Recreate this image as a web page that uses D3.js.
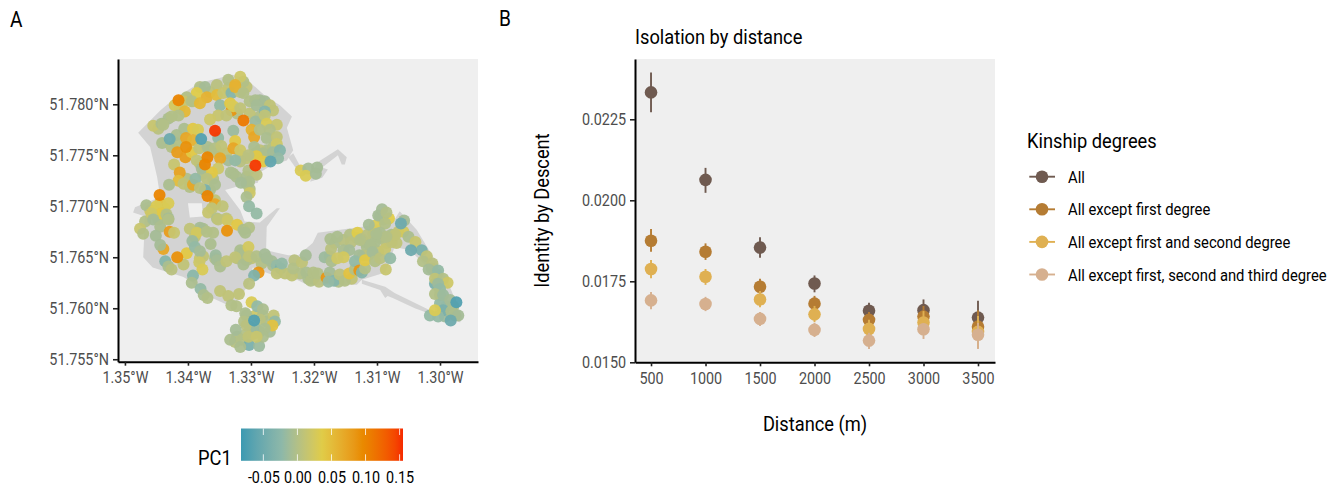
<!DOCTYPE html>
<html>
<head>
<meta charset="utf-8">
<script src="https://cdn.jsdelivr.net/npm/d3@7"></script>
<style>
  html, body { margin: 0; background: #fff; }
  svg { display: block; }
  text { font-family: Roboto, sans-serif; }
</style>
</head>
<body>
<svg id="chart" width="1340" height="487"></svg>
<script>
const locations = [
[-1.3381,51.7817,0],[-1.3365,51.7812,.01],[-1.3307,51.7817,.01],[-1.3312,51.7822,0],[-1.3336,51.7816,.01],[-1.3302,51.7803,0],[-1.3286,51.7804,-.01],[-1.3265,51.7794,.01],
[-1.3286,51.7788,0],[-1.3302,51.7791,.01],[-1.3322,51.7791,0],[-1.3392,51.7803,.01],[-1.3413,51.7796,.005],[-1.3431,51.7786,-.005],[-1.3447,51.7776,.005],[-1.3418,51.7762,0],
[-1.3365,51.7755,-.005],[-1.3354,51.7753,.005],[-1.3339,51.7752,.01],[-1.3317,51.7750,-.005],[-1.3307,51.7747,.01],[-1.3293,51.7752,0],[-1.3275,51.7755,-.005],[-1.3265,51.7758,0],
[-1.3286,51.7755,.01],[-1.3270,51.7748,-.01],[-1.3381,51.7742,.005],[-1.3376,51.7732,0],[-1.3360,51.7727,0],[-1.3328,51.7732,-.005],[-1.3307,51.7722,0],[-1.3302,51.7717,0],
[-1.3307,51.7729,-.005],[-1.3402,51.7727,0],[-1.3397,51.7719,0],[-1.3365,51.7716,-.005],[-1.3357,51.7706,.01],[-1.3460,51.7696,.02],[-1.3444,51.7703,.045],[-1.3437,51.7698,.03],
[-1.3450,51.7691,0],[-1.3468,51.7685,0],[-1.3447,51.7687,-.005],[-1.3439,51.7692,0],[-1.3389,51.7670,.01],[-1.3376,51.7678,-.005],[-1.3381,51.7649,.015],[-1.3376,51.7651,.01],
[-1.3357,51.7649,0],[-1.3322,51.7649,.005],[-1.3315,51.7654,-.005],[-1.3299,51.7649,.01],[-1.3307,51.7647,0],[-1.3265,51.7642,-.005],[-1.3293,51.7593,.02],[-1.3307,51.7593,-.005],
[-1.3281,51.7593,0],[-1.3302,51.7582,0],[-1.3275,51.7587,-.005],[-1.3270,51.7577,-.01],[-1.3322,51.7572,-.01],[-1.3325,51.7567,.005],[-1.3309,51.7574,0],[-1.3296,51.7575,.01],
[-1.3286,51.7577,0],[-1.3167,51.7664,-.005],[-1.3153,51.7667,.005],[-1.3132,51.7669,.01],[-1.3119,51.7665,0],[-1.3106,51.7673,0],[-1.3109,51.7662,-.01],[-1.3095,51.7669,0],
[-1.3085,51.7664,0],[-1.3077,51.7672,-.005],[-1.3069,51.7664,.01],[-1.3090,51.7687,0],[-1.3095,51.7690,-.005],[-1.3116,51.7660,-.005],[-1.3122,51.7652,0],[-1.3114,51.7652,.005],
[-1.3098,51.7656,.01],[-1.3175,51.7651,0],[-1.3153,51.7657,-.005],[-1.3201,51.7629,0],[-1.3222,51.7634,0],[-1.3209,51.7629,-.005],[-1.3161,51.7626,0],[-1.3140,51.7629,.01],
[-1.3000,51.7613,-.01],[-1.2990,51.7602,-.02],[-1.3000,51.7605,-.02],[-1.2979,51.7602,0],[-1.2976,51.7593,0],[-1.2992,51.7592,-.015],[-1.3005,51.7633,-.015],[-1.3013,51.7639,-.005],
[-1.3331,51.7794,.085],[-1.3415,51.7804,.10],[-1.3317,51.7827,.02],[-1.3336,51.7824,0],[-1.3325,51.7819,.06],[-1.3373,51.7817,-.01],[-1.3354,51.7819,.005],
[-1.3386,51.7811,.035],[-1.3370,51.7807,.06],[-1.3354,51.7809,.05],[-1.3344,51.7811,.015],[-1.3331,51.7811,-.03],[-1.3317,51.7812,.01],[-1.3325,51.7817,.06],[-1.3312,51.7811,0],
[-1.3402,51.7807,0],[-1.3421,51.7799,.025],[-1.3407,51.7803,.015],[-1.3394,51.7803,0],[-1.3381,51.7801,.055],[-1.3405,51.7793,.055],[-1.3415,51.7789,0],[-1.3426,51.7788,0],
[-1.3349,51.7799,-.02],[-1.3333,51.7801,.04],[-1.3328,51.7798,.03],[-1.3317,51.7796,.01],[-1.3293,51.7804,-.005],[-1.3278,51.7803,-.01],[-1.3270,51.7799,.01],[-1.3291,51.7799,-.01],
[-1.3352,51.7789,.015],[-1.3339,51.7789,.01],[-1.3365,51.7785,.02],[-1.3312,51.7784,.11],[-1.3293,51.7783,-.015],[-1.3278,51.7793,-.03],[-1.3278,51.7789,.01],[-1.3275,51.7781,.03],
[-1.3259,51.7780,.015],[-1.3299,51.7775,.06],[-1.3295,51.7768,.07],[-1.3286,51.7775,0],[-1.3270,51.7775,0],[-1.3275,51.7767,-.005],[-1.3259,51.7768,.01],[-1.3259,51.7761,.02],
[-1.3455,51.7779,.015],[-1.3442,51.7781,-.005],[-1.3439,51.7780,0],[-1.3357,51.7774,.15],[-1.3328,51.7774,-.015],[-1.3379,51.7766,-.07],[-1.3352,51.7767,-.02],[-1.3429,51.7766,-.05],
[-1.3441,51.7762,-.005],[-1.3426,51.7758,0],[-1.3418,51.7770,-.005],[-1.3406,51.7776,-.005],[-1.3392,51.7776,.04],[-1.3384,51.7775,.03],[-1.3403,51.7767,.07],[-1.3392,51.7765,.06],
[-1.3417,51.7753,.08],[-1.3404,51.7748,.08],[-1.3403,51.7758,.09],[-1.3394,51.7753,.04],[-1.3382,51.7757,.01],[-1.3369,51.7758,-.005],[-1.3357,51.7757,0],[-1.3347,51.7759,.01],
[-1.3325,51.7764,.04],[-1.3328,51.7757,.07],[-1.3317,51.7755,.02],[-1.3295,51.7758,-.005],[-1.3281,51.7752,-.005],[-1.3265,51.7753,-.01],[-1.3269,51.7744,-.06],[-1.3254,51.7755,-.03],
[-1.3257,51.7747,-.02],[-1.3291,51.7749,.04],[-1.3281,51.7744,.04],[-1.3293,51.7740,.15],[-1.3304,51.7750,.005],[-1.3317,51.7744,.005],[-1.3336,51.7745,-.01],[-1.3325,51.7745,-.02],
[-1.3349,51.7747,.07],[-1.3386,51.7745,.01],[-1.3369,51.7748,.10],[-1.3373,51.7741,.10],[-1.3422,51.7741,.015],[-1.3413,51.7733,.075],[-1.3415,51.7725,.05],[-1.3430,51.7721,-.005],
[-1.3407,51.7722,.01],[-1.3392,51.7721,.07],[-1.3388,51.7727,-.02],[-1.3378,51.7737,-.01],[-1.3352,51.7737,.02],[-1.3362,51.7733,.04],[-1.3370,51.7727,.005],[-1.3332,51.7733,-.005],
[-1.3323,51.7729,-.005],[-1.3304,51.7735,0],[-1.3291,51.7731,.005],[-1.3303,51.7724,-.005],[-1.3316,51.7723,-.01],[-1.3357,51.7721,-.005],[-1.3373,51.7716,-.04],[-1.3381,51.7718,.005],
[-1.3369,51.7710,.10],[-1.3445,51.7711,.10],[-1.3302,51.7713,.02],[-1.3307,51.7709,-.005],[-1.3303,51.7700,-.02],[-1.3291,51.7693,-.02],[-1.3357,51.7702,.07],[-1.3345,51.7700,.01],
[-1.3362,51.7698,.01],[-1.3368,51.7694,.015],[-1.3339,51.7688,.01],[-1.3354,51.7688,0],[-1.3431,51.7703,.03],[-1.3466,51.7701,-.005],[-1.3450,51.7700,.03],[-1.3455,51.7695,.03],
[-1.3442,51.7693,.04],[-1.3434,51.7692,0],[-1.3431,51.7688,-.01],[-1.3458,51.7693,.02],[-1.3455,51.7687,-.01],[-1.3444,51.7680,-.005],[-1.3431,51.7687,0],[-1.3476,51.7678,.015],
[-1.3471,51.7673,0],[-1.3451,51.7671,-.01],[-1.3429,51.7675,.08],[-1.3422,51.7674,.015],[-1.3439,51.7658,.07],[-1.3444,51.7662,-.01],[-1.3417,51.7650,.09],[-1.3402,51.7654,.04],
[-1.3436,51.7646,-.03],[-1.3431,51.7641,-.005],[-1.3426,51.7638,.005],[-1.3407,51.7643,.01],[-1.3381,51.7679,-.01],[-1.3397,51.7678,.01],[-1.3386,51.7674,.025],[-1.3370,51.7675,0],
[-1.3360,51.7674,0],[-1.3393,51.7666,-.015],[-1.3389,51.7660,-.02],[-1.3381,51.7656,-.01],[-1.3364,51.7663,-.005],[-1.3356,51.7652,-.015],[-1.3354,51.7647,-.01],[-1.3349,51.7641,-.005],
[-1.3339,51.7646,.01],[-1.3382,51.7645,.02],[-1.3377,51.7638,.03],[-1.3392,51.7632,-.025],[-1.3394,51.7625,-.005],[-1.3380,51.7619,-.02],[-1.3375,51.7613,-.005],[-1.3369,51.7610,0],
[-1.3349,51.7617,.01],[-1.3336,51.7612,.01],[-1.3319,51.7614,.01],[-1.3352,51.7687,.01],[-1.3337,51.7686,.02],[-1.3338,51.7676,.09],[-1.3322,51.7682,.04],[-1.3312,51.7677,-.005],
[-1.3303,51.7679,0],[-1.3309,51.7674,-.005],[-1.3317,51.7657,-.005],[-1.3304,51.7660,.025],[-1.3325,51.7650,.01],[-1.3312,51.7643,-.005],[-1.3303,51.7651,.01],[-1.3291,51.7651,0],
[-1.3278,51.7653,-.01],[-1.3283,51.7644,0],[-1.3267,51.7646,-.01],[-1.3288,51.7635,.085],[-1.3295,51.7632,-.035],[-1.3303,51.7624,.005],[-1.3299,51.7606,.03],[-1.3290,51.7602,-.02],
[-1.3331,51.7603,0],[-1.3323,51.7602,0],[-1.3309,51.7595,-.005],[-1.3281,51.7599,-.005],[-1.3264,51.7593,.01],[-1.3286,51.7589,.005],[-1.3295,51.7588,-.07],[-1.3262,51.7587,-.02],
[-1.3266,51.7583,.045],[-1.3311,51.7587,0],[-1.3307,51.7583,.005],[-1.3324,51.7579,-.01],[-1.3291,51.7579,-.015],[-1.3278,51.7580,-.005],[-1.3333,51.7569,-.005],[-1.3315,51.7569,0],
[-1.3303,51.7564,-.04],[-1.3317,51.7562,-.005],[-1.3287,51.7563,-.015],[-1.3304,51.7572,.01],[-1.3281,51.7572,-.005],[-1.3291,51.7572,.015],[-1.3275,51.7649,-.01],[-1.3259,51.7642,-.02],
[-1.3253,51.7639,-.04],[-1.3259,51.7634,.01],[-1.3246,51.7634,.01],[-1.3235,51.7632,.01],[-1.3231,51.7647,.005],[-1.3233,51.7639,0],[-1.3251,51.7644,-.02],[-1.3219,51.7645,.01],
[-1.3213,51.7652,-.01],[-1.3212,51.7635,-.005],[-1.3205,51.7627,0],[-1.3201,51.7635,0],[-1.3192,51.7626,.005],[-1.3194,51.7634,0],[-1.3183,51.7650,-.015],[-1.3172,51.7646,-.005],
[-1.3180,51.7630,.085],[-1.3175,51.7635,-.01],[-1.3168,51.7627,-.03],[-1.3177,51.7626,-.02],[-1.3159,51.7633,.005],[-1.3151,51.7627,0],[-1.3173,51.7658,.005],[-1.3174,51.7668,-.005],
[-1.3163,51.7670,-.005],[-1.3143,51.7672,0],[-1.3141,51.7665,.005],[-1.3131,51.7674,.035],[-1.3124,51.7668,0],[-1.3115,51.7672,.005],[-1.3103,51.7681,.03],[-1.3113,51.7682,-.01],
[-1.3098,51.7691,-.01],[-1.3081,51.7688,.035],[-1.3092,51.7697,-.01],[-1.3085,51.7694,0],[-1.3087,51.7683,0],[-1.3095,51.7674,-.005],[-1.3103,51.7665,-.005],[-1.3111,51.7662,-.005],
[-1.3144,51.7657,-.01],[-1.3153,51.7650,.025],[-1.3163,51.7649,.02],[-1.3144,51.7634,.045],[-1.3135,51.7638,0],[-1.3128,51.7652,-.01],[-1.3135,51.7646,-.02],[-1.3128,51.7637,.085],
[-1.3124,51.7635,-.03],[-1.3119,51.7639,0],[-1.3119,51.7647,.04],[-1.3107,51.7655,-.01],[-1.3103,51.7646,0],[-1.3095,51.7649,.005],[-1.3087,51.7658,.015],[-1.3086,51.7638,.015],
[-1.3079,51.7649,-.02],[-1.3077,51.7665,.01],[-1.3066,51.7675,.01],[-1.3058,51.7675,.025],[-1.3057,51.7686,-.01],[-1.3062,51.7683,-.05],[-1.3050,51.7670,-.005],[-1.3039,51.7665,.015],
[-1.3029,51.7657,-.04],[-1.3046,51.7657,-.05],[-1.3021,51.7651,.01],[-1.3027,51.7646,0],[-1.3012,51.7644,.005],[-1.3018,51.7638,-.01],[-1.3003,51.7637,-.02],[-1.3008,51.7624,-.04],
[-1.3008,51.7629,.01],[-1.2995,51.7629,0],[-1.2988,51.7625,.02],[-1.3003,51.7624,-.015],[-1.3000,51.7619,-.02],[-1.3008,51.7614,0],[-1.2995,51.7613,-.015],[-1.2984,51.7608,-.01],
[-1.2995,51.7598,-.04],[-1.3016,51.7593,-.02],[-1.3003,51.7592,-.02],[-1.3008,51.7598,.03],[-1.2982,51.7597,-.005],[-1.2971,51.7593,-.01],[-1.2983,51.7588,-.05],[-1.2974,51.7606,-.07],
[-1.3071,51.7672,.01],[-1.3085,51.7670,0],[-1.3127,51.7667,0],[-1.3101,51.7673,-.005],
[-1.3221,51.7735,.03],[-1.3209,51.7737,-.01],[-1.3213,51.7730,.03],[-1.3195,51.7738,-.01],[-1.3197,51.7732,-.01]
];

// panel A: background map outlines [lon, lat]
const cityOutline = [
[-1.3479,51.7772],[-1.3444,51.7794],[-1.3421,51.7806],[-1.3381,51.7821],[-1.3329,51.7829],[-1.3306,51.7824],[-1.3275,51.7807],[-1.3254,51.7799],
[-1.3235,51.7788],[-1.3243,51.7777],[-1.3233,51.7755],[-1.3243,51.7745],[-1.3265,51.7741],[-1.3286,51.7733],[-1.3289,51.7723],[-1.3317,51.7720],
[-1.3341,51.7716],[-1.3317,51.7696],[-1.3310,51.7685],[-1.3286,51.7684],[-1.3259,51.7698],[-1.3254,51.7698],[-1.3275,51.7680],[-1.3276,51.7657],
[-1.3241,51.7652],[-1.3225,51.7652],[-1.3227,51.7628],[-1.3254,51.7630],[-1.3297,51.7640],[-1.3306,51.7621],[-1.3317,51.7611],[-1.3329,51.7601],
[-1.3365,51.7611],[-1.3392,51.7625],[-1.3408,51.7631],[-1.3456,51.7640],[-1.3471,51.7650],[-1.3468,51.7690],[-1.3487,51.7694],[-1.3484,51.7699],
[-1.3444,51.7709],[-1.3449,51.7729],[-1.3460,51.7758]
];
const cityHole = [[-1.3400,51.7703],[-1.3378,51.7703],[-1.3376,51.7690],[-1.3397,51.7689]];
const eastOutline = [
[-1.3225,51.7652],[-1.3202,51.7664],[-1.3194,51.7674],[-1.3135,51.7679],[-1.3075,51.7684],[-1.3064,51.7695],[-1.3037,51.7677],[-1.2989,51.7628],
[-1.2965,51.7592],[-1.2968,51.7586],[-1.3008,51.7597],[-1.3005,51.7608],[-1.3021,51.7641],[-1.3048,51.7657],[-1.3072,51.7660],[-1.3087,51.7635],
[-1.3124,51.7628],[-1.3132,51.7623],[-1.3211,51.7623],[-1.3227,51.7628]
];
const roadStrip = [
[-1.3124,51.7628],[-1.3087,51.7621],[-1.3072,51.7615],[-1.3016,51.7598],[-1.3013,51.7594],[-1.3040,51.7600],[-1.3075,51.7610],[-1.3083,51.7612],
[-1.3087,51.7610],[-1.3095,51.7618],[-1.3124,51.7624]
];
const armLink = [[-1.3241,51.7748],[-1.3233,51.7752],[-1.3219,51.7736],[-1.3225,51.7734]];
const armOutline = [
[-1.3206,51.7724],[-1.3203,51.7731],[-1.3195,51.7743],[-1.3162,51.7756],[-1.3148,51.7748],[-1.3151,51.7741],[-1.3156,51.7741],[-1.3162,51.7750],
[-1.3187,51.7738],[-1.3178,51.7736],[-1.3187,51.7728]
];

const lonTicks = [-1.35, -1.34, -1.33, -1.32, -1.31, -1.30];
const latTicks = [51.755, 51.76, 51.765, 51.77, 51.775, 51.78];

// colour bar
const pc1Range = [-0.0828, 0.155];
const pc1Ticks = [-0.05, 0, 0.05, 0.10, 0.15];
const pc1Colors = ["#3B9AB2", "#8DB8A9", "#E0CC48", "#E98A00", "#F62A00"];

// panel B
const distances = [500, 1000, 1500, 2000, 2500, 3000, 3500];
const ibdTicks = [0.015, 0.0175, 0.02, 0.0225];
const kinshipLabels = ["All", "All except first degree", "All except first and second degree", "All except first, second and third degree"];
const kinshipColors = ["#6F5A50", "#B57C33", "#DFB052", "#D6B08F"];
const ibdAll = [0.02333, 0.02063, 0.01854, 0.01743, 0.01659, 0.01661, 0.01638];
const ibdAllLow = [0.02272, 0.02023, 0.01823, 0.01716, 0.01636, 0.0163, 0.01594];
const ibdAllHigh = [0.02394, 0.0210, 0.01886, 0.01768, 0.01684, 0.01694, 0.0169];
const ibdNoFirst = [0.01875, 0.01841, 0.01733, 0.01681, 0.01631, 0.01641, 0.0161];
const ibdNoFirstLow = [0.01841, 0.01816, 0.01708, 0.01658, 0.01606, 0.01612, 0.01563];
const ibdNoFirstHigh = [0.01911, 0.01867, 0.01758, 0.01705, 0.01655, 0.01674, 0.01661];
const ibdNoSecond = [0.01788, 0.01764, 0.01694, 0.01648, 0.01603, 0.01623, 0.01594];
const ibdNoSecondLow = [0.01759, 0.01739, 0.0167, 0.01624, 0.01575, 0.01587, 0.01544];
const ibdNoSecondHigh = [0.01816, 0.01788, 0.0172, 0.01674, 0.01631, 0.01658, 0.01643];
const ibdNoThird = [0.01691, 0.0168, 0.01634, 0.016, 0.01567, 0.01602, 0.01585];
const ibdNoThirdLow = [0.01664, 0.01658, 0.01612, 0.01578, 0.01541, 0.01572, 0.01541];
const ibdNoThirdHigh = [0.01717, 0.01702, 0.01655, 0.01622, 0.01591, 0.01621, 0.01621];

const svg = d3.select("#chart");
const narrow = 0.87;   // the reference uses a condensed face

function label(x, y, str, size, anchor, rotate) {
	return svg.append("text")
		.attr("transform", "translate(" + x + "," + y + ")" + (rotate ? " rotate(-90)" : "") + " scale(" + narrow + ",1)")
		.attr("text-anchor", anchor || "start")
		.attr("font-size", size)
		.attr("fill", "#000")
		.text(str);
}

function styleAxis(g, size, dx) {
	g.selectAll(".tick line").attr("stroke", "#222").attr("stroke-width", 1.6);
	g.selectAll(".domain").attr("stroke", "#000").attr("stroke-width", 2);
	g.selectAll(".tick text")
		.attr("font-family", "Roboto, sans-serif")
		.attr("font-size", size)
		.attr("fill", "#4d4d4d")
		.attr("transform", "scale(" + narrow + ",1)");
	if (dx) g.selectAll(".tick text").attr("x", dx / narrow);
}

// ---- panel A
const lon = d3.scaleLinear().domain([-1.3511, -1.29397]).range([118, 478]);
const lat = d3.scaleLinear().domain([51.75476, 51.78444]).range([361.7, 59]);
const colorStops = pc1Colors.map((c, i) => pc1Range[0] + i * (pc1Range[1] - pc1Range[0]) / (pc1Colors.length - 1));
const pc1Color = d3.scaleLinear().domain(colorStops).range(pc1Colors).interpolate(d3.interpolateLab);

svg.append("rect").attr("x", 118).attr("y", 59).attr("width", 360).attr("height", 302.7).attr("fill", "#efefef");

const ring = d3.line().x(d => lon(d[0])).y(d => lat(d[1]));
svg.append("path")
	.attr("d", ring(cityOutline) + "Z" + ring(cityHole) + "Z")
	.attr("fill", "#d3d3d3")
	.attr("fill-rule", "evenodd");
[eastOutline, roadStrip, armLink, armOutline].forEach(o => {
	svg.append("path").attr("d", ring(o) + "Z").attr("fill", "#d3d3d3");
});

// strongest values sit on top of the crowd, as in the reference
const isExtreme = d => d[2] >= 0.09 || d[2] <= -0.05;
const drawOrder = locations.filter(d => !isExtreme(d)).concat(locations.filter(isExtreme));

svg.append("g").selectAll("circle")
	.data(drawOrder)
	.join("circle")
	.attr("cx", d => lon(d[0]))
	.attr("cy", d => lat(d[1]))
	.attr("r", 6)
	.attr("fill-opacity", 0.95)
	.attr("fill", d => pc1Color(d[2]));

const lonAxis = svg.append("g").attr("transform", "translate(0,361.7)")
	.call(d3.axisBottom(lon).tickValues(lonTicks).tickSize(4).tickSizeOuter(0).tickPadding(6)
		.tickFormat(d => Math.abs(d).toFixed(2) + "°W"));
styleAxis(lonAxis, 16.5);
const latAxis = svg.append("g").attr("transform", "translate(118,0)")
	.call(d3.axisLeft(lat).tickValues(latTicks).tickSize(5).tickSizeOuter(0)
		.tickFormat(d => d.toFixed(3) + "°N"));
styleAxis(latAxis, 16.5, -9);

// colour bar
const barX = d3.scaleLinear().domain(pc1Range).range([241, 403]);
const grad = svg.append("defs").append("linearGradient").attr("id", "pc1grad");
d3.range(0, 1.001, 0.05).forEach(t => {
	grad.append("stop").attr("offset", t).attr("stop-color", pc1Color(pc1Range[0] + t * (pc1Range[1] - pc1Range[0])));
});
svg.append("rect").attr("x", 241).attr("y", 428.5).attr("width", 162).attr("height", 32.3).attr("fill", "url(#pc1grad)");
pc1Ticks.forEach(t => {
	svg.append("line").attr("x1", barX(t)).attr("x2", barX(t)).attr("y1", 428.5).attr("y2", 435).attr("stroke", "#fff").attr("stroke-width", 0.8);
	svg.append("line").attr("x1", barX(t)).attr("x2", barX(t)).attr("y1", 454.3).attr("y2", 460.8).attr("stroke", "#fff").attr("stroke-width", 0.8);
});
const barAxis = svg.append("g").attr("transform", "translate(0,460.8)")
	.call(d3.axisBottom(barX).tickValues(pc1Ticks).tickSize(0).tickPadding(10).tickFormat(d => d.toFixed(2)));
barAxis.select(".domain").remove();
barAxis.selectAll(".tick text").attr("font-family", "Roboto, sans-serif").attr("font-size", 16.5).attr("fill", "#000").attr("transform", "scale(" + narrow + ",1)");
label(198, 465, "PC1", 21);

// ---- panel B
const x = d3.scaleLinear().domain([353, 3656]).range([635, 995]);
const y = d3.scaleLinear().domain([0.015, 0.02436]).range([362.3, 59]);

svg.append("rect").attr("x", 635).attr("y", 59).attr("width", 360).attr("height", 303.3).attr("fill", "#efefef");

const kinshipSeries = [
	[ibdAll, ibdAllLow, ibdAllHigh],
	[ibdNoFirst, ibdNoFirstLow, ibdNoFirstHigh],
	[ibdNoSecond, ibdNoSecondLow, ibdNoSecondHigh],
	[ibdNoThird, ibdNoThirdLow, ibdNoThirdHigh]
];
kinshipSeries.forEach((s, i) => {
	const g = svg.append("g").attr("fill", kinshipColors[i]).attr("stroke", kinshipColors[i]);
	g.selectAll("line").data(distances).join("line")
		.attr("x1", d => x(d)).attr("x2", d => x(d))
		.attr("y1", (d, j) => y(s[1][j])).attr("y2", (d, j) => y(s[2][j]))
		.attr("stroke-width", 1.9);
	g.selectAll("circle").data(distances).join("circle")
		.attr("cx", d => x(d)).attr("cy", (d, j) => y(s[0][j]))
		.attr("r", 6.3).attr("stroke", "none");
});

const xAxis = svg.append("g").attr("transform", "translate(0,362.3)")
	.call(d3.axisBottom(x).tickValues(distances).tickSize(4).tickSizeOuter(0).tickPadding(6).tickFormat(d3.format("d")));
styleAxis(xAxis, 16.5);
const yAxis = svg.append("g").attr("transform", "translate(635,0)")
	.call(d3.axisLeft(y).tickValues(ibdTicks).tickSize(5).tickSizeOuter(0).tickFormat(d3.format(".4f")));
styleAxis(yAxis, 16.5, -9);

// ---- titles and legend
label(10, 27, "A", 22);
label(499, 26, "B", 22);
label(635, 44, "Isolation by distance", 21);
label(549, 210.5, "Identity by Descent", 21, "middle", true);
label(815, 431, "Distance (m)", 21, "middle");
label(1027, 148, "Kinship degrees", 21);

const legendY = d3.scalePoint().domain(kinshipLabels).range([176.7, 274.5]);
kinshipLabels.forEach((k, i) => {
	const ly = legendY(k);
	svg.append("line").attr("x1", 1029.3).attr("x2", 1055).attr("y1", ly).attr("y2", ly).attr("stroke", kinshipColors[i]).attr("stroke-width", 1.9);
	svg.append("circle").attr("cx", 1042).attr("cy", ly).attr("r", 6.3).attr("fill", kinshipColors[i]);
	label(1068, ly + 6, k, 17);
});
</script>
</body>
</html>
